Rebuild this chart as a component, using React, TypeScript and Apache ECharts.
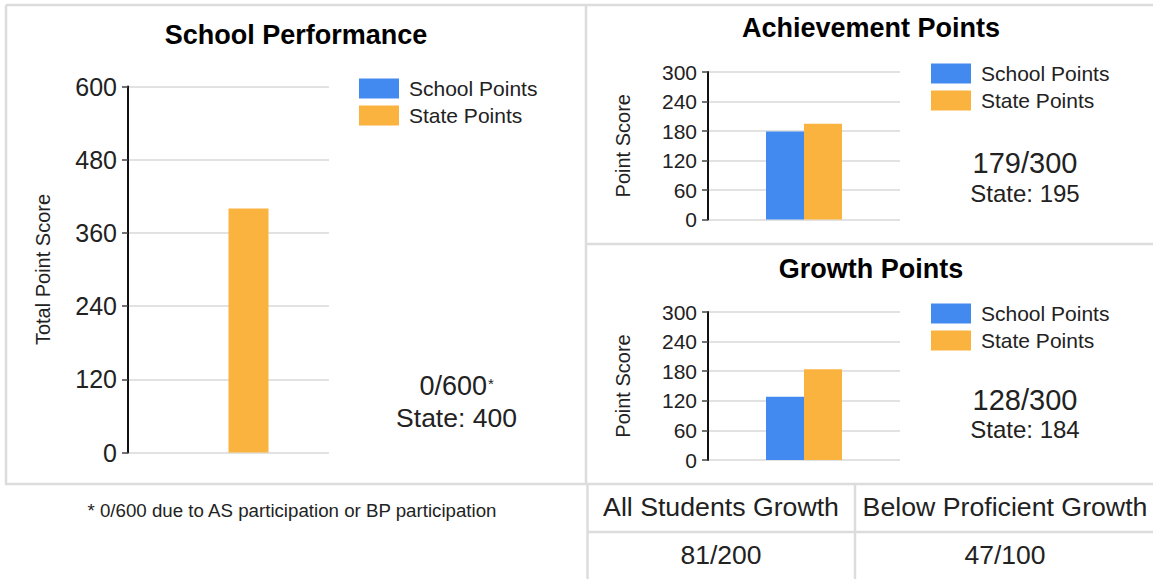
import React, { useEffect, useRef } from "react";
import * as echarts from "echarts";

const categories = [""];
const seriesNames = ["School Points", "State Points"];
const perfSchool = [0];
const perfState = [400];
const achSchool = [179];
const achState = [195];
const growSchool = [128];
const growState = [184];
const perfMax = 600;
const perfInterval = 120;
const partMax = 300;
const partInterval = 60;
const tableHeaders = ["All Students Growth", "Below Proficient Growth"];
const tableValues = ["81/200", "47/100"];

const FONT = '"Liberation Sans", Arial, Helvetica, sans-serif';
const BLUE = "#4289f0";
const ORANGE = "#fbb340";
const BORDER = "#dcdcdc";
const TXT = "#222";

function txt(text: string, x: number, y: number, size: number, opts: any = {}) {
  return {
    type: "text",
    x,
    y,
    silent: true,
    style: {
      text,
      fill: opts.fill || TXT,
      fontSize: size,
      fontFamily: FONT,
      fontWeight: opts.bold ? "bold" : "normal",
      align: opts.align || "center",
      verticalAlign: opts.valign || "middle",
    },
  };
}

function line(x1: number, y1: number, x2: number, y2: number) {
  return {
    type: "line",
    silent: true,
    shape: { x1, y1, x2, y2 },
    style: { stroke: BORDER, lineWidth: 2.5 },
  };
}

export default function App() {
  const ref = useRef<HTMLDivElement>(null);
  useEffect(() => {
    if (!ref.current) return;
    const chart = echarts.init(ref.current, null, { renderer: "svg" });

    const yAxisBase = (max: number, interval: number, name: string, labelSize: number) => ({
      type: "value",
      min: 0,
      max,
      interval,
      name,
      nameLocation: "middle",
      nameGap: 75,
      nameTextStyle: { fontSize: 20, fontFamily: FONT, color: TXT },
      axisLine: { show: true, lineStyle: { color: "#111", width: 2 } },
      axisTick: { show: true, length: 6, lineStyle: { color: "#444", width: 1.5 } },
      axisLabel: { fontSize: labelSize, fontFamily: FONT, color: TXT, margin: 11 },
      splitLine: { show: true, lineStyle: { color: "#e2e2e2", width: 2 } },
    });

    const xAxisBase = (gridIndex: number) => ({
      type: "category",
      gridIndex,
      data: categories,
      axisLine: { show: false },
      axisTick: { show: false },
      axisLabel: { show: false },
    });

    const bar = (name: string, data: number[], idx: number, color: string, width: number) => ({
      type: "bar",
      name,
      data,
      xAxisIndex: idx,
      yAxisIndex: idx,
      barWidth: width,
      barGap: "0%",
      itemStyle: { color },
    });

    const legend = (left: number, top: number) => ({
      orient: "vertical",
      left,
      top,
      data: seriesNames,
      icon: "rect",
      itemWidth: 40,
      itemHeight: 20,
      itemGap: 6,
      selectedMode: false,
      textStyle: { fontSize: 21, fontFamily: FONT, color: TXT, padding: [0, 0, 0, 5] },
    });

    const graphic: any[] = [
      // borders
      line(6, 5, 1153, 5),
      line(6, 5, 6, 485),
      line(586, 5, 586, 485),
      line(5, 484, 1153, 484),
      line(587, 244, 1153, 244),
      line(587.5, 484, 587.5, 579),
      line(855, 484, 855, 579),
      line(587, 532, 1153, 532),
      // titles
      txt("School Performance", 296, 35, 27, { bold: true, fill: "#000" }),
      txt("Achievement Points", 871, 28, 27, { bold: true, fill: "#000" }),
      txt("Growth Points", 871, 269, 27, { bold: true, fill: "#000" }),
      // summaries
      txt("0/600", 487, 386, 27, { align: "right" }),
      txt("*", 488, 383, 15, { align: "left" }),
      txt("State: 400", 456.5, 418, 26.5),
      txt(`${achSchool[0]}/${partMax}`, 1025, 163, 29),
      txt(`State: ${achState[0]}`, 1025, 193, 24),
      txt(`${growSchool[0]}/${partMax}`, 1025, 400, 29),
      txt(`State: ${growState[0]}`, 1025, 429, 24),
      // footnote
      txt("* 0/600 due to AS participation or BP participation", 292, 510, 18.7),
      // table
      txt(tableHeaders[0], 721, 507, 26.7),
      txt(tableHeaders[1], 1005, 507, 26.7),
      txt(tableValues[0], 721, 555, 26.5),
      txt(tableValues[1], 1005, 555, 26.5),
    ];

    chart.setOption({
      animation: false,
      backgroundColor: "#fff",
      grid: [
        { left: 128, top: 86.5, width: 201, height: 366 },
        { left: 708, top: 72, width: 192, height: 147.5 },
        { left: 708, top: 312, width: 192, height: 148 },
      ],
      xAxis: [xAxisBase(0), xAxisBase(1), xAxisBase(2)],
      yAxis: [
        { ...yAxisBase(perfMax, perfInterval, "Total Point Score", 25), gridIndex: 0 },
        { ...yAxisBase(partMax, partInterval, "Point Score", 21), gridIndex: 1 },
        { ...yAxisBase(partMax, partInterval, "Point Score", 21), gridIndex: 2 },
      ],
      legend: [legend(354, 73), legend(926, 58), legend(926, 298)],
      series: [
        bar(seriesNames[0], perfSchool, 0, BLUE, 40),
        bar(seriesNames[1], perfState, 0, ORANGE, 40),
        bar(seriesNames[0], achSchool, 1, BLUE, 38),
        bar(seriesNames[1], achState, 1, ORANGE, 38),
        bar(seriesNames[0], growSchool, 2, BLUE, 38),
        bar(seriesNames[1], growState, 2, ORANGE, 38),
      ],
      graphic,
    });
    return () => chart.dispose();
  }, []);

  return (
    <div
      ref={ref}
      style={{ position: "fixed", left: 0, top: 0, width: 1153, height: 579, background: "#fff" }}
    />
  );
}
